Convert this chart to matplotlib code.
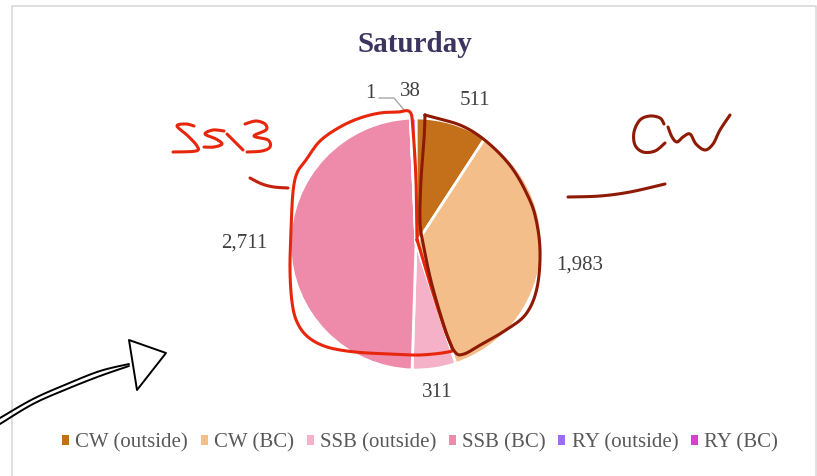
import numpy as np
import matplotlib
matplotlib.use("Agg")
import matplotlib.pyplot as plt
from matplotlib.lines import Line2D
from matplotlib.patches import Patch, Polygon

# chart data
categories = ["CW (outside)", "CW (BC)", "SSB (outside)", "SSB (BC)", "RY (outside)", "RY (BC)"]
values = [511, 1983, 311, 2711, 1, 38]
value_labels = ["511", "1,983", "311", "2,711", "1", "38"]
colors = ["#C4701A", "#F3BE8A", "#F4B1C8", "#EE8BAB", "#9E6CF0", "#D63FCF"]
title = "Saturday"

# label placement: (angle clockwise from 12 o'clock, radius as fraction of pie radius)
label_pos = [(22.4, 1.23), (97.3, 1.31), (172.0, 1.19), (270.3, 1.36), (-17.0, 1.25), (-2.3, 1.21)]

W, H = 817, 476
SERIF = ["Liberation Serif", "DejaVu Serif"]

fig = plt.figure(figsize=(W / 100, H / 100), dpi=100)


def fig_xy(pts):
    """Pixel coords (origin top-left) to figure fraction."""
    arr = np.asarray(pts, dtype=float)
    return arr[:, 0] / W, 1 - arr[:, 1] / H


def smooth(pts, n=8):
    # catmull-rom through the hand-picked points so the strokes look drawn
    p = np.asarray(pts, dtype=float)
    p = np.vstack([p[0], p, p[-1]])
    out = []
    t = np.linspace(0, 1, n, endpoint=False)[:, None]
    for i in range(1, len(p) - 2):
        p0, p1, p2, p3 = p[i - 1], p[i], p[i + 1], p[i + 2]
        out.append(0.5 * (2 * p1 + (-p0 + p2) * t + (2 * p0 - 5 * p1 + 4 * p2 - p3) * t ** 2
                          + (-p0 + 3 * p1 - 3 * p2 + p3) * t ** 3))
    out.append(p[-2][None, :])
    return np.vstack(out)


def scribble(pts, color, lw, curve=True, **kw):
    if curve:
        pts = smooth(pts)
    x, y = fig_xy(pts)
    fig.add_artist(Line2D(x, y, transform=fig.transFigure, color=color, lw=lw,
                          solid_capstyle="round", solid_joinstyle="round", **kw))


# chart border
scribble([(12, 476), (12, 6), (816, 6), (816, 476)], "#D9D9D9", 1.2, curve=False)

# pie
cx, cy, r = 416, 244, 126
ax = fig.add_axes([(cx - r) / W, (H - cy - r) / H, 2 * r / W, 2 * r / H])
ax.pie(values, colors=colors, startangle=90, counterclock=False, radius=1,
       wedgeprops=dict(edgecolor="white", linewidth=2.0))
ax.set_xlim(-1, 1)
ax.set_ylim(-1, 1)
ax.axis("off")

for txt, (ang, dist) in zip(value_labels, label_pos):
    a = np.deg2rad(ang)
    ax.text(dist * np.sin(a), dist * np.cos(a), txt, ha="center", va="center",
            fontsize=15, color="#404040", family=SERIF, clip_on=False)

# leader line for the tiny slice
scribble([(379, 98), (394, 98), (405, 111)], "#A6A6A6", 1.0, curve=False)

fig.text(415 / W, 1 - 45 / H, title, ha="center", va="center", fontsize=21,
         fontweight="bold", color="#3D3560", family=SERIF)

handles = [Patch(facecolor=c, edgecolor="none") for c in colors]
fig.legend(handles, categories, loc="center", bbox_to_anchor=(420 / W, 1 - 443 / H),
           ncol=6, frameon=False, prop={"family": SERIF, "size": 15},
           labelcolor="#595959", handlelength=0.34, handleheight=0.34,
           handletextpad=0.3, columnspacing=0.6)

# hand-drawn annotations
RED = "#E8260C"
DARK = "#8E1A04"
scribble([(417, 240), (416, 180), (413, 130), (410, 112), (398, 112), (380, 113),
          (360, 118), (340, 127), (320, 141), (306, 160), (297, 173), (293, 192),
          (291, 230), (290, 270), (292, 302), (297, 322), (308, 337), (327, 347),
          (355, 352), (390, 354), (420, 355), (448, 352), (452, 348), (445, 330),
          (432, 290), (422, 256), (417, 240)], RED, 2.2)
scribble([(425, 115), (440, 119), (460, 125), (478, 135), (496, 150), (512, 168),
          (525, 190), (535, 215), (540, 250), (537, 288), (526, 314), (506, 330),
          (482, 344), (464, 354), (455, 352), (446, 332), (432, 285), (424, 248),
          (420, 222), (421, 180), (424, 140), (425, 115)], DARK, 2.2)

# "SSB"
scribble([(194, 126), (186, 124), (177, 126), (188, 136), (197, 146), (196, 151), (173, 152)], RED, 2.2)
scribble([(224, 131), (213, 130), (205, 134), (216, 139), (222, 144), (214, 147), (204, 147)], RED, 2.2)
scribble([(227, 134), (236, 143), (243, 150)], RED, 2.2)
scribble([(245, 124), (256, 121), (265, 124), (266, 130), (254, 136), (268, 140),
          (270, 147), (262, 151), (247, 152)], RED, 2.2)
scribble([(250, 178), (262, 184), (274, 187), (288, 188)], "#C4200C", 2.2)

# "CW"
scribble([(664, 124), (660, 118), (650, 116), (640, 120), (634, 132), (635, 145),
          (643, 152), (655, 151), (665, 143)], DARK, 2.2)
scribble([(668, 127), (672, 137), (677, 142), (683, 137), (690, 134), (696, 144),
          (705, 150), (713, 144), (720, 130), (730, 115)], DARK, 2.2)
scribble([(568, 197), (600, 196), (630, 192), (665, 184)], DARK, 2.2)

# arrow
scribble([(0, 418), (33, 399), (67, 384), (100, 371), (129, 364)], "black", 1.4)
scribble([(0, 424), (33, 404), (67, 389), (100, 376), (129, 366)], "black", 1.4)
tx, ty = fig_xy([(129, 340), (166, 353), (137, 390)])
fig.add_artist(Polygon(np.column_stack([tx, ty]), closed=True, transform=fig.transFigure,
                       facecolor="white", edgecolor="black", lw=1.4, joinstyle="round"))

fig.savefig("out.png", dpi=100)
